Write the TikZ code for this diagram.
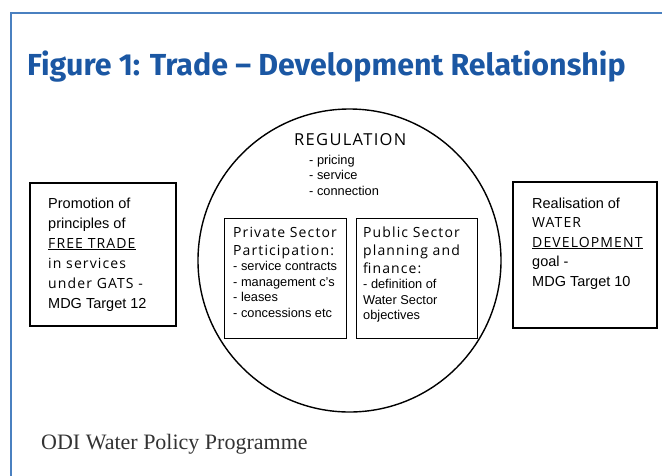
\documentclass[tikz,border=0pt]{standalone}
\usepackage{fontspec}
\setmainfont{Liberation Sans}
\newfontfamily\titlefont{Fira Sans}
\newfontfamily\spaced[LetterSpace=8]{Open Sans}
\newfontfamily\footfont{Liberation Serif}
\definecolor{titleblue}{HTML}{1B57A3}
\definecolor{framecol}{HTML}{4A80C0}
\definecolor{footgray}{HTML}{333333}
% stacked lines whose first baseline is the node's base anchor
\newcommand\stacklines[2]{\parbox[t]{#1}{\raggedright #2}}
\tikzset{
  outerbox/.style={draw, line width=1.8pt, inner sep=0pt},
  innerbox/.style={draw, line width=1pt, inner sep=0pt},
  txt/.style={anchor=base west, inner sep=0pt},
}
\begin{document}
\begin{tikzpicture}[x=1pt,y=-1pt]
\useasboundingbox (0,0) rectangle (662,475);
% page frame
\draw[framecol, line width=1.5pt] (11,476) -- (11,13) -- (663,13);
% title
\node[txt, text=titleblue, font=\titlefont\bfseries\fontsize{30.4}{36}\selectfont] (title) at (27,75.5)
  {Figure 1: Trade – Development Relationship};
% regulation circle
\node[circle, draw, line width=1.4pt, minimum size=303pt, inner sep=0pt] (reg) at (349.5,260.5) {};
\node[txt, font=\spaced\fontsize{16.5}{20}\selectfont] (regtitle) at (294,145) {REGULATION};
\node[txt, font=\fontsize{12.8}{15.5}\selectfont] (reglist) at (309,164)
  {\stacklines{120pt}{- pricing\\- service\\- connection}};
% outer boxes
\node[outerbox, minimum width=146pt, minimum height=143pt] (trade) at (103,254.5) {};
\node[outerbox, minimum width=144pt, minimum height=146pt] (water) at (585,255) {};
\node[txt, font=\fontsize{14.5}{20}\selectfont] (tradetxt) at (48,208)
  {\stacklines{125pt}{Promotion of\\principles of\\{\spaced\fontsize{14}{20}\selectfont\underline{FREE TRADE}}\\{\spaced\fontsize{14}{20}\selectfont in services}\\{\spaced\fontsize{14}{20}\selectfont under GATS -}\\MDG Target 12}};
\node[txt, font=\fontsize{14.5}{19.5}\selectfont] (watertxt) at (532,208)
  {\stacklines{125pt}{Realisation of\\{\spaced\fontsize{14}{20}\selectfont WATER}\\{\spaced\fontsize{14}{20}\selectfont\underline{DEVELOPMENT}}\\goal -\\MDG Target 10}};
% inner boxes
\node[innerbox, minimum width=122pt, minimum height=120pt] (private) at (285,278) {};
\node[innerbox, minimum width=121pt, minimum height=120pt] (public) at (416.5,278) {};
\node[txt, font=\fontsize{12.8}{15.5}\selectfont] (privtxt) at (233,237)
  {\stacklines{115pt}{{\spaced\fontsize{14}{18}\selectfont Private Sector}\\[2.5pt]{\spaced\fontsize{14}{18}\selectfont Participation:}\\- service contracts\\- management c's\\- leases\\- concessions etc}};
\node[txt, font=\fontsize{12.8}{15.5}\selectfont] (pubtxt) at (363,237)
  {\stacklines{115pt}{{\spaced\fontsize{14}{18}\selectfont Public Sector}\\[2.5pt]{\spaced\fontsize{14}{18}\selectfont planning and}\\[2.5pt]{\spaced\fontsize{14}{18}\selectfont finance:}\\- definition of\\Water Sector\\objectives}};
% footer
\node[txt, text=footgray, font=\footfont\fontsize{22}{26}\selectfont] (footer) at (41,449) {ODI Water Policy Programme};
\end{tikzpicture}
\end{document}
